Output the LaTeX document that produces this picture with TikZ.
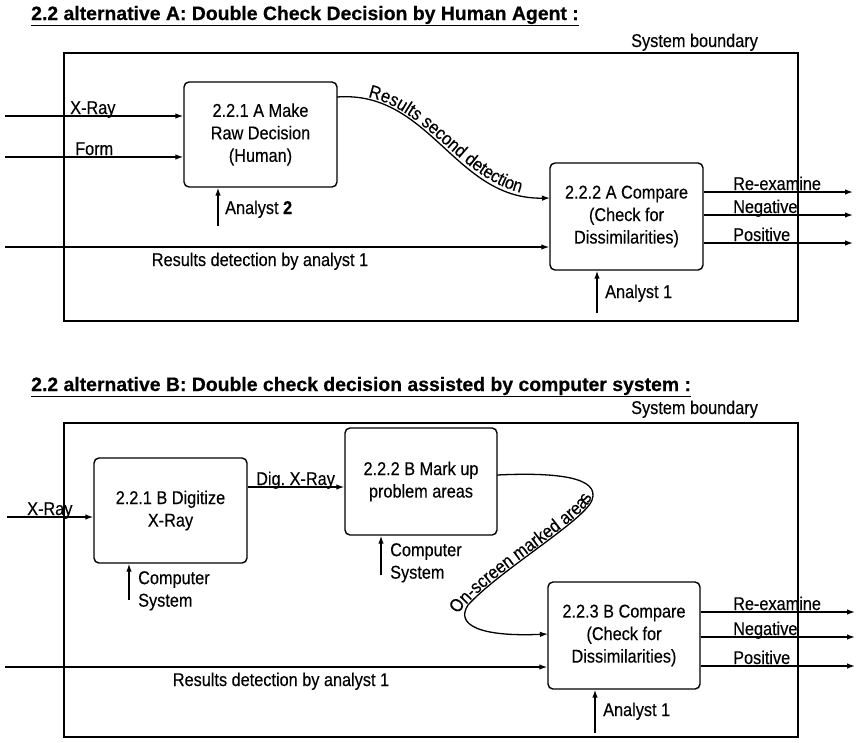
\documentclass[tikz,border=0pt]{standalone}
\usepackage{fontspec}
\setmainfont{Liberation Sans}[FakeStretch=0.88,FakeBold=0.3]
\newfontfamily\ttlfam{Liberation Sans}[BoldFeatures={FakeBold=0.5}]
\usetikzlibrary{arrows.meta,decorations.text,calc}
\newcommand\lblf{\fontsize{18.5}{22.5}\selectfont}
\newcommand\ttlf{\ttlfam\fontsize{19.4}{22}\selectfont\bfseries}
\begin{document}
\begin{tikzpicture}[x=1pt,y=-1pt,
  procbox/.style={draw, line width=1.4pt, rounded corners=5pt, align=center, font=\lblf, inner sep=2pt},
  arr/.style={line width=1.3pt, -{Latex[length=8pt,width=5.5pt]}},
  sysb/.style={draw, line width=2.6pt},
  lbl/.style={font=\lblf, inner sep=0pt, anchor=base west},
  ttl/.style={font=\ttlf, inner sep=0pt, anchor=base west}]
\useasboundingbox (0,0) rectangle (858,742);

% ================= Alternative A =================
\node[ttl] (tA) at (31,20) {\underline{2.2 alternative A: Double Check Decision by Human Agent :}};
\node[lbl] (sbA) at (631,47) {System boundary};
\draw[sysb] (64,53) rectangle (798,321);

\node[procbox, minimum width=153, minimum height=105] (A1) at (260.5,134.5) {2.2.1 A Make\\Raw Decision\\(Human)};
\node[procbox, minimum width=153, minimum height=107] (A2) at (626.5,216.5) {2.2.2 A Compare\\(Check for\\Dissimilarities)};

\coordinate (inX) at (5,116);
\coordinate (inF) at (5,157);
\coordinate (inR) at (5,247);
\draw[arr] (inX) -- (inX -| A1.west);
\draw[arr] (inF) -- (inF -| A1.west);
\draw[arr] (inR) -- (inR -| A2.west);
\node[lbl] (lX) at (70,114) {X-Ray};
\node[lbl] (lF) at (75,155) {Form};
\node[font=\lblf, inner sep=0pt, anchor=base] (lR) at (260,266) {Results detection by analyst 1};

\coordinate (an2) at (218,226);
\draw[arr] (an2) -- (an2 |- A1.south);
\node[lbl] (lan2) at (225,214) {Analyst \textbf{2}};

\coordinate (an1) at (597,313);
\draw[arr] (an1) -- (an1 |- A2.south);
\node[lbl] (lan1) at (605,298) {Analyst 1};

\coordinate (sA) at (337,97);
\coordinate (eA) at (550,198);
\draw[arr] (sA) .. controls (430,90) and (455,200) .. (eA);
\path[decorate, decoration={text along path, text align=center, raise=2pt,
   text={|\lblf|Results second detection}}]
   (sA) .. controls (430,90) and (455,200) .. (eA);

\coordinate (oA1) at (853,192);
\coordinate (oA2) at (853,215);
\coordinate (oA3) at (853,243);
\draw[arr] (oA1 -| A2.east) -- (oA1);
\draw[arr] (oA2 -| A2.east) -- (oA2);
\draw[arr] (oA3 -| A2.east) -- (oA3);
\node[lbl] (lA1) at (733,190) {Re-examine};
\node[lbl] (lA2) at (733,213) {Negative};
\node[lbl] (lA3) at (733,241) {Positive};

% ================= Alternative B =================
\node[ttl] (tB) at (31,391) {\underline{2.2 alternative B: Double check decision assisted by computer system :}};
\node[lbl] (sbB) at (631,414) {System boundary};
\draw[sysb] (64,423) rectangle (798,737);

\node[procbox, minimum width=153, minimum height=105] (B1) at (170.5,510.5) {2.2.1 B Digitize\\X-Ray};
\node[procbox, minimum width=152, minimum height=107] (B2) at (421,481.5) {2.2.2 B Mark up\\problem areas};
\node[procbox, minimum width=152, minimum height=107] (B3) at (624,635.5) {2.2.3 B Compare\\(Check for\\Dissimilarities)};

\coordinate (inXB) at (7,517);
\draw[arr] (inXB) -- (inXB -| B1.west);
\node[lbl] (lXB) at (27,515) {X-Ray};

\coordinate (dg) at (0,487);
\draw[arr] (dg -| B1.east) -- (dg -| B2.west);
\node[lbl] (ldg) at (256,485) {Dig.\ X-Ray};

\coordinate (cs1) at (129,600);
\draw[arr] (cs1) -- (cs1 |- B1.south);
\node[font=\lblf, inner sep=0pt, anchor=north west, align=left] (lcs1) at (138,571) {Computer\\System};

\coordinate (cs2) at (381,575);
\draw[arr] (cs2) -- (cs2 |- B2.south);
\node[font=\lblf, inner sep=0pt, anchor=north west, align=left] (lcs2) at (390,543) {Computer\\System};

\coordinate (inRB) at (5,667);
\draw[arr] (inRB) -- (inRB -| B3.west);
\node[font=\lblf, inner sep=0pt, anchor=base] (lRB) at (281,686) {Results detection by analyst 1};

\coordinate (an1B) at (595,733);
\draw[arr] (an1B) -- (an1B |- B3.south);
\node[lbl] (lan1B) at (603,716) {Analyst 1};

\coordinate (sB) at (497,475);
\coordinate (eB) at (548,634);
\draw[arr] (sB) .. controls (560,472) and (600,478) .. (592,500)
   .. controls (585,520) and (500,570) .. (468,605)
   .. controls (455,625) and (480,637) .. (eB);
\path[decorate, decoration={text along path, text align=center, raise=1.5pt,
   text={|\lblf|On-screen marked areas}}]
   (457,627) .. controls (458,615) and (462,610) .. (468,605)
   .. controls (500,570) and (585,520) .. (592,500)
   .. controls (594,494) and (594,490) .. (590,486);

\coordinate (oB1) at (855,612);
\coordinate (oB2) at (855,637);
\coordinate (oB3) at (855,666);
\draw[arr] (oB1 -| B3.east) -- (oB1);
\draw[arr] (oB2 -| B3.east) -- (oB2);
\draw[arr] (oB3 -| B3.east) -- (oB3);
\node[lbl] (lB1) at (733,610) {Re-examine};
\node[lbl] (lB2) at (733,635) {Negative};
\node[lbl] (lB3) at (733,664) {Positive};
\end{tikzpicture}
\end{document}
